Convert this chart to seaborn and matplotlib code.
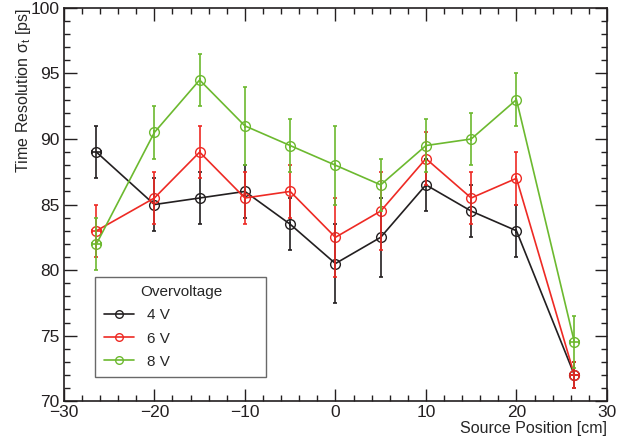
"""
时间分辨率随源位置变化图
"""
import matplotlib
matplotlib.use("Agg")
import matplotlib.pyplot as plt
import matplotlib.transforms as mtransforms
from matplotlib.ticker import MultipleLocator
import numpy as np
import pandas as pd
import seaborn as sns

# 数据
positions = [-26.4, -20, -15, -10, -5, 0, 5, 10, 15, 20, 26.4]
pos_err = [0.5, 0, 0, 0, 0, 0, 0, 0, 0, 0, 0.5]

res_4v = [89.0, 85.0, 85.5, 86.0, 83.5, 80.5, 82.5, 86.5, 84.5, 83.0, 72.0]
err_4v = [2, 2, 2, 2, 2, 3, 3, 2, 2, 2, 1]

res_6v = [83.0, 85.5, 89.0, 85.5, 86.0, 82.5, 84.5, 88.5, 85.5, 87.0, 72.0]
err_6v = [2, 2, 2, 2, 2, 3, 3, 2, 2, 2, 1]

res_8v = [82.0, 90.5, 94.5, 91.0, 89.5, 88.0, 86.5, 89.5, 90.0, 93.0, 74.5]
err_8v = [2, 2, 2, 3, 2, 3, 2, 2, 2, 2, 2]

labels = ["4 V", "6 V", "8 V"]
colors = ["#231f20", "#ee2a24", "#6cb92f"]

df = pd.concat([
    pd.DataFrame({"pos": positions, "res": r, "err": e, "ov": lab})
    for r, e, lab in zip([res_4v, res_6v, res_8v], [err_4v, err_6v, err_8v], labels)
])

sns.set_style("ticks")
plt.rcParams["font.family"] = ["Liberation Sans", "DejaVu Sans"]
plt.rcParams["mathtext.fontset"] = "custom"
plt.rcParams["mathtext.rm"] = "Liberation Sans"

fig = plt.figure(figsize=(6.2, 4.38), dpi=100)
ax = fig.add_axes([0.103, 0.084, 0.876, 0.898])

sns.lineplot(data=df, x="pos", y="res", hue="ov", style="ov", palette=colors,
             markers=["o", "o", "o"], dashes=False, markersize=7,
             markerfacecolor="none", markeredgewidth=1.0, lw=1.2, ax=ax,
             legend=False, estimator=None, sort=False)
for line, c in zip(ax.lines, colors):
    line.set_markeredgecolor(c)
    line.set_markerfacecolor("none")

for lab, c in zip(labels, colors):
    sub = df[df["ov"] == lab]
    ax.errorbar(sub["pos"], sub["res"], yerr=sub["err"], xerr=pos_err,
                fmt="none", ecolor=c, elinewidth=1.2, capsize=1.5, capthick=1.2)

# 图例
handles = [plt.Line2D([], [], color=c, lw=1.2, marker="o", markersize=5.5,
                      markerfacecolor="none", markeredgewidth=1.0)
           for c in colors]
leg = ax.legend(handles, labels, title="Overvoltage", loc="lower left",
                bbox_to_anchor=(0.058, 0.061, 0.315, 0.25), mode="expand",
                frameon=True, fancybox=False, fontsize=11, title_fontsize=11,
                handlelength=2.0, handletextpad=0.8, borderpad=0.55,
                labelspacing=0.6, borderaxespad=0)
leg.get_frame().set_edgecolor("#444444")
leg.get_frame().set_linewidth(1.0)

ax.set_xlim(-30, 30)
ax.set_ylim(70, 100)
ax.xaxis.set_major_locator(MultipleLocator(10))
ax.xaxis.set_minor_locator(MultipleLocator(2))
ax.yaxis.set_major_locator(MultipleLocator(5))
ax.yaxis.set_minor_locator(MultipleLocator(1))
ax.tick_params(which="both", direction="in", top=True, right=True,
               colors="#231f20", labelsize=12.5, width=1.0)
ax.tick_params(axis="x", which="major", pad=3)
ax.tick_params(axis="y", which="major", pad=3)
ax.tick_params(which="major", length=9)
ax.tick_params(which="minor", length=4.5)
for sp in ax.spines.values():
    sp.set_linewidth(1.2)
    sp.set_color("#231f20")

# 底部 "70" 稍微上移，避免与 "−30" 相碰
fig.canvas.draw()
lab70 = ax.get_yticklabels()[0]
lab70.set_transform(lab70.get_transform()
                    + mtransforms.ScaledTranslation(0, 3 / 72, fig.dpi_scale_trans))

ax.set_xlabel("Source Position [cm]", loc="right", fontsize=11.5, labelpad=0.5)
ax.set_ylabel(r"Time Resolution σ$_{\mathrm{t}}$ [ps]", loc="top",
              fontsize=11.5, labelpad=-1.5)

fig.savefig("out.png", dpi=100)
plt.close(fig)
